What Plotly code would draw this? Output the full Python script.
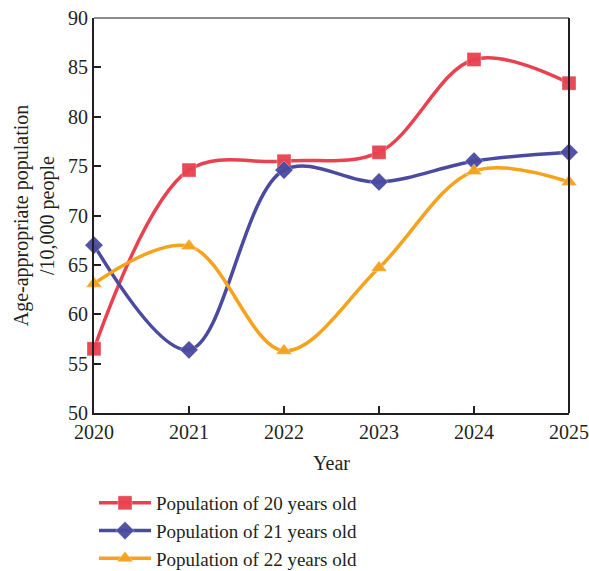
import plotly.graph_objects as go

years = [2020, 2021, 2022, 2023, 2024, 2025]
pop20 = [56.5, 74.6, 75.5, 76.4, 85.8, 83.4]
pop21 = [67.0, 56.4, 74.6, 73.4, 75.5, 76.4]
pop22 = [63.1, 66.9, 56.3, 64.7, 74.5, 73.4]
names = ["Population of 20 years old", "Population of 21 years old", "Population of 22 years old"]
colors = ["#E8414F", "#4A4AA0", "#F5A21E"]
symbols = ["square", "diamond", "triangle-up"]

font_family = "Liberation Serif"
txt = "#231F20"

fig = go.Figure()
for vals, name, col, sym in zip([pop20, pop21, pop22], names, colors, symbols):
    fig.add_trace(go.Scatter(
        x=years, y=vals, name=name, mode="lines+markers",
        line=dict(color=col, width=3.5, shape="spline", smoothing=1.0),
        marker=dict(symbol=sym, size=14, color=col, opacity=0.95,
                    line=dict(color="rgba(255,255,255,0.35)", width=1)),
        cliponaxis=False,
    ))

fig.update_layout(
    width=589, height=571,
    margin=dict(l=94, r=20, t=18, b=158, autoexpand=False),
    paper_bgcolor="white", plot_bgcolor="white",
    font=dict(family=font_family, size=20, color=txt),
    showlegend=True,
    legend=dict(x=0.0, y=1 - 484 / 571, xref="paper", yref="container",
                xanchor="left", yanchor="top", itemwidth=52,
                font=dict(size=19, family=font_family, color=txt),
                tracegroupgap=0, bgcolor="rgba(0,0,0,0)"),
    xaxis=dict(range=[2020, 2025], tickvals=years, ticktext=[str(y) for y in years],
               ticks="inside", ticklen=7, tickwidth=2, tickcolor=txt,
               showline=True, linecolor=txt, linewidth=2, mirror=False,
               showgrid=False, zeroline=False, automargin=False,
               title=dict(text="Year", font=dict(size=20), standoff=14),
               tickfont=dict(size=20)),
    yaxis=dict(range=[50, 90], tickvals=[50, 55, 60, 65, 70, 75, 80, 85, 90],
               ticks="inside", ticklen=7, tickwidth=2, tickcolor=txt,
               showline=True, linecolor=txt, linewidth=2, mirror=False,
               showgrid=False, zeroline=False, automargin=False,
               title=dict(text="Age-appropriate population<br>/10,000 people", font=dict(size=20), standoff=8),
               tickfont=dict(size=20)),
    shapes=[
        dict(type="line", xref="paper", yref="paper", x0=0, x1=1, y0=1, y1=1,
             line=dict(color="#666666", width=1.5)),
        dict(type="line", xref="paper", yref="paper", x0=1, x1=1, y0=0, y1=1,
             line=dict(color=txt, width=2)),
    ],
)

fig.write_html("out.html", config={"displayModeBar": False},
               post_script="document.body.style.margin='0';")
